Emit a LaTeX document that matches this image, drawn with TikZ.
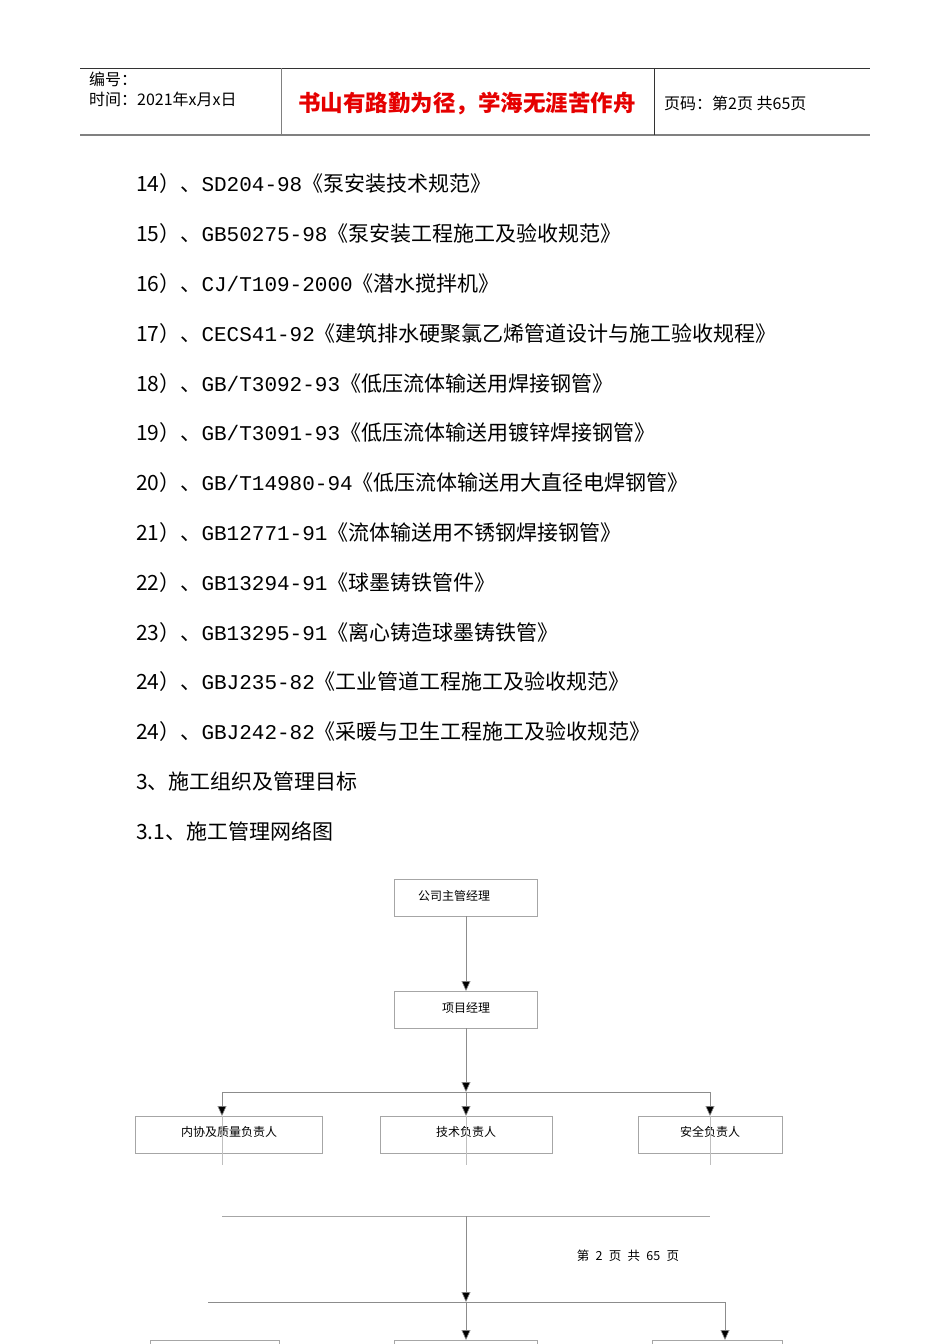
\documentclass[tikz,border=0pt]{standalone}
\usepackage{fontspec}
\setmainfont{Liberation Serif}
\newfontfamily\cjk{Noto Sans CJK SC}
\newfontfamily\latmono{Liberation Mono}
\usetikzlibrary{arrows.meta}
\begin{document}
\begin{tikzpicture}[x=1pt,y=-1pt,
  box/.style={draw=black!35,line width=0.8pt,inner sep=0pt,anchor=north west},
  lbl/.style={font=\cjk\fontsize{12}{14}\selectfont},
  ln/.style={draw=black!45,line width=0.6pt},
  arr/.style={ln,-{Triangle[length=10pt,width=9pt,fill=black]}},
  body/.style={anchor=west,font=\cjk\fontsize{21}{24}\selectfont,inner sep=0pt}]
\useasboundingbox (0,0) rectangle (950,1344);
% header
\draw[black!80,line width=0.8pt] (80,68) -- (870,68);
\draw[black!50,line width=1.2pt] (80,135) -- (870,135);
\draw[black!50,line width=1pt] (281,68) -- (281,135);
\draw[black!80,line width=0.8pt] (654,68) -- (654,135);
\node[anchor=west,inner sep=0pt,font=\cjk\fontsize{16}{18}\selectfont] (h1) at (89,79) {编号：};
\node[anchor=west,inner sep=0pt,font=\cjk\fontsize{16}{18}\selectfont] (h2) at (89,99) {时间：2021年x月x日};
\node[inner sep=0pt,text=red!90!black,font=\cjk\bfseries\fontsize{22.5}{25}\selectfont] (h3) at (467,104) {书山有路勤为径，学海无涯苦作舟};
\node[anchor=west,inner sep=0pt,font=\cjk\fontsize{16}{18}\selectfont] (h4) at (664,103) {页码：第2页\ 共65页};
% body
\foreach \i [count=\k from 0] in {
 {14）、{\latmono SD204-98}《泵安装技术规范》},
 {15）、{\latmono GB50275-98}《泵安装工程施工及验收规范》},
 {16）、{\latmono CJ/T109-2000}《潜水搅拌机》},
 {17）、{\latmono CECS41-92}《建筑排水硬聚氯乙烯管道设计与施工验收规程》},
 {18）、{\latmono GB/T3092-93}《低压流体输送用焊接钢管》},
 {19）、{\latmono GB/T3091-93}《低压流体输送用镀锌焊接钢管》},
 {20）、{\latmono GB/T14980-94}《低压流体输送用大直径电焊钢管》},
 {21）、{\latmono GB12771-91}《流体输送用不锈钢焊接钢管》},
 {22）、{\latmono GB13294-91}《球墨铸铁管件》},
 {23）、{\latmono GB13295-91}《离心铸造球墨铸铁管》},
 {24）、{\latmono GBJ235-82}《工业管道工程施工及验收规范》},
 {24）、{\latmono GBJ242-82}《采暖与卫生工程施工及验收规范》},
 {3、施工组织及管理目标},
 {3.1、施工管理网络图}}
 \node[body] (t\k) at (136,{184+49.8*\k}) {\i};
% chart
\draw[box] (394,879) rectangle (537,916);
\node[lbl] (a) at (454,896) {公司主管经理};
\draw[box] (394,991) rectangle (537,1028);
\node[lbl] (b) at (466,1008) {项目经理};
\draw[box] (135,1116) rectangle (322,1153);
\node[lbl] (c) at (229,1132) {内协及质量负责人};
\draw[box] (380,1116) rectangle (552,1153);
\node[lbl] (d) at (466,1132) {技术负责人};
\draw[box] (638,1116) rectangle (782,1153);
\node[lbl] (e) at (710,1132) {安全负责人};
\draw[box] (150,1340) rectangle (279,1350);
\draw[box] (394,1340) rectangle (537,1350);
\draw[box] (652,1340) rectangle (782,1350);
\coordinate (p1) at (466,916); \coordinate (p2) at (466,991);
\draw[arr] (p1) -- (p2);
\draw[arr] (466,1028) -- (466,1092);
\draw[ln] (222,1092) -- (710,1092);
\draw[arr] (222,1092) -- (222,1116);
\draw[arr] (466,1092) -- (466,1116);
\draw[arr] (710,1092) -- (710,1116);
\draw[ln,black!25] (222,1116) -- (222,1165);
\draw[ln,black!25] (466,1116) -- (466,1165);
\draw[ln,black!25] (710,1116) -- (710,1165);
\draw[ln,black!35] (222,1216) -- (710,1216);
\draw[arr] (466,1216) -- (466,1302);
\draw[ln] (208,1302) -- (725,1302);
\draw[arr] (466,1302) -- (466,1340);
\draw[arr] (725,1302) -- (725,1340);
\node[font=\cjk\fontsize{12.5}{14}\selectfont] (f) at (628,1256) {第\enspace 2\enspace 页\enspace 共\enspace 65\enspace 页};
\end{tikzpicture}
\end{document}
